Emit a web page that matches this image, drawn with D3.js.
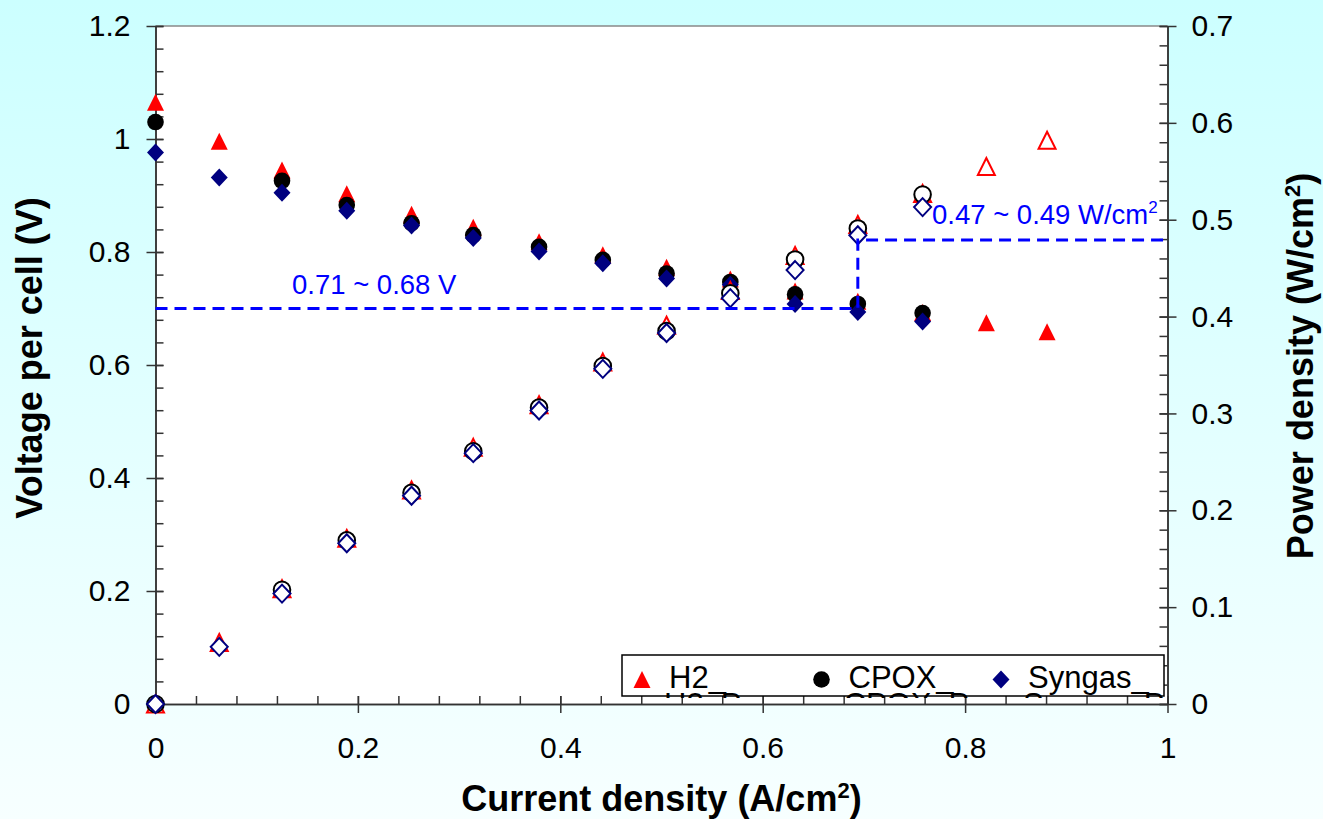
<!DOCTYPE html>
<html>
<head>
<meta charset="utf-8">
<script src="https://cdn.jsdelivr.net/npm/d3@7"></script>
<style>
  body { margin: 0; }
  svg { display: block; font-family: 'Liberation Sans', Arial, sans-serif; }
  .axis .tick text { font-size: 30px; fill: #000; font-family: 'Liberation Sans', Arial, sans-serif; }
  .axis path, .axis line { stroke: #333; stroke-width: 1.5; }
  .axis-title { font-size: 36px; font-weight: bold; fill: #000; }
  .guide-line { fill: none; stroke: #0000ff; stroke-width: 3; stroke-dasharray: 12 7; }
  .guide-label { font-size: 27.5px; fill: #0000ff; }
  .legend-text { font-size: 31px; fill: #000; }
</style>
</head>
<body>
<svg id="chart" width="1323" height="819"></svg>
<script>
//////////////////////////////////////////////////////////////////////////////////////////
// Data
//////////////////////////////////////////////////////////////////////////////////////////
var current_density = [0, 0.063, 0.125, 0.189, 0.253, 0.314, 0.379, 0.442, 0.505, 0.568, 0.632, 0.694, 0.758, 0.821, 0.881]

var h2_voltage     = [1.065, 0.996, 0.945, 0.903, 0.867, 0.844, 0.818, 0.795, 0.773, 0.752, 0.731, 0.713, 0.693, 0.675, 0.659]
var cpox_voltage   = [1.030, null, 0.926, 0.883, 0.851, 0.830, 0.809, 0.786, 0.762, 0.747, 0.725, 0.708, 0.692, null, null]
var syngas_voltage = [0.976, 0.932, 0.905, 0.873, 0.847, 0.825, 0.801, 0.780, 0.753, 0.742, 0.708, 0.694, 0.677, null, null]

var h2_power     = [0, 0.0635, 0.119, 0.171, 0.221, 0.265, 0.309, 0.353, 0.391, 0.427, 0.463, 0.495, 0.527, 0.555, 0.582]
var cpox_power   = [0, null, 0.118, 0.169, 0.218, 0.261, 0.306, 0.349, 0.385, 0.424, 0.459, 0.491, 0.526, null, null]
var syngas_power = [0, 0.059, 0.114, 0.166, 0.215, 0.259, 0.303, 0.346, 0.383, 0.419, 0.448, 0.484, 0.513, null, null]

var x_ticks = [0, 0.2, 0.4, 0.6, 0.8, 1]
var voltage_ticks = [0, 0.2, 0.4, 0.6, 0.8, 1, 1.2]
var power_ticks = [0, 0.1, 0.2, 0.3, 0.4, 0.5, 0.6, 0.7]

var legend_names = ['H2_', 'CPOX_', 'Syngas_']
var legend_names_power = ['H2_P', 'CPOX_P', 'Syngas_P']

var voltage_guide = 0.70
var current_guide = 0.694
var power_guide = 0.479
var voltage_guide_label = '0.71 ~ 0.68 V'
var power_guide_label = '0.47 ~ 0.49 W/cm'

//////////////////////////////////////////////////////////////////////////////////////////
// Layout
//////////////////////////////////////////////////////////////////////////////////////////
var layout = {
  'width': 1323,
  'height': 819,
  'left': 155.5,
  'right': 1167.5,
  'top': 26,
  'bottom': 704,
  'major-tick': 9,
  'minor-tick': 8,
  'legend-x': 622,
  'legend-y': 655,
  'legend-w': 542,
  'legend-h': 41,
  'legend-step': 179.5
}

var colors = { 'H2': '#ff0000', 'CPOX': '#000000', 'Syngas': '#000080' }

var shapes = {
  'triangle': 'M0,-8.5L8.5,8.5L-8.5,8.5Z',
  'diamond': 'M0,-9L8.5,0L0,9L-8.5,0Z',
  'circle': 'M8.3,0A8.3,8.3 0 1,1 -8.3,0A8.3,8.3 0 1,1 8.3,0Z'
}

var series = [
  { name: 'H2', values: h2_voltage, axis: 'v', shape: 'triangle', filled: true },
  { name: 'CPOX', values: cpox_voltage, axis: 'v', shape: 'circle', filled: true },
  { name: 'Syngas', values: syngas_voltage, axis: 'v', shape: 'diamond', filled: true },
  { name: 'H2', values: h2_power, axis: 'p', shape: 'triangle', filled: false },
  { name: 'CPOX', values: cpox_power, axis: 'p', shape: 'circle', filled: false },
  { name: 'Syngas', values: syngas_power, axis: 'p', shape: 'diamond', filled: false }
]

var x = d3.scaleLinear().domain([0, 1]).range([layout['left'], layout['right']])
var y_v = d3.scaleLinear().domain([0, 1.2]).range([layout['bottom'], layout['top']])
var y_p = d3.scaleLinear().domain([0, 0.7]).range([layout['bottom'], layout['top']])

var svg = d3.select('#chart')

//////////////////////////////////////////////////////////////////////////////////////////
// Main
//////////////////////////////////////////////////////////////////////////////////////////
draw_background()
draw_axes()
draw_axis_titles()
draw_points()
draw_guides()
draw_legend()

function draw_background() {
  var grad = svg.append('defs')
    .append('linearGradient')
    .attr('id', 'bg-grad')
    .attr('x1', 0).attr('y1', 0).attr('x2', 0).attr('y2', 1)
  grad.append('stop').attr('offset', '0%').attr('stop-color', '#ccffff')
  grad.append('stop').attr('offset', '100%').attr('stop-color', '#f7ffff')

  svg.append('rect')
    .attr('width', layout['width'])
    .attr('height', layout['height'])
    .attr('fill', 'url(#bg-grad)')

  svg.append('rect')
    .attr('x', layout['left'])
    .attr('y', layout['top'])
    .attr('width', layout['right'] - layout['left'])
    .attr('height', layout['bottom'] - layout['top'])
    .attr('fill', '#ffffff')

  svg.append('line')
    .attr('x1', layout['left']).attr('x2', layout['right'])
    .attr('y1', layout['top']).attr('y2', layout['top'])
    .attr('stroke', '#888')
    .attr('stroke-width', 1.5)
}

function draw_axes() {
  var fmt = function(d) { return String(d) }

  // minor ticks, inside the plot
  svg.append('g')
    .attr('class', 'axis')
    .attr('transform', 'translate(0,' + layout['bottom'] + ')')
    .call(d3.axisBottom(x).tickValues(d3.range(0, 1.0001, 0.04))
      .tickSize(-layout['minor-tick']).tickSizeOuter(0).tickFormat(''))

  svg.append('g')
    .attr('class', 'axis')
    .attr('transform', 'translate(' + layout['left'] + ',0)')
    .call(d3.axisLeft(y_v).tickValues(d3.range(0, 1.2001, 0.04))
      .tickSize(-layout['minor-tick']).tickSizeOuter(0).tickFormat(''))

  svg.append('g')
    .attr('class', 'axis')
    .attr('transform', 'translate(' + layout['right'] + ',0)')
    .call(d3.axisRight(y_p).tickValues(d3.range(0, 0.7001, 0.02))
      .tickSize(-layout['minor-tick']).tickSizeOuter(0).tickFormat(''))

  // major ticks, crossing the axis line
  svg.append('g')
    .attr('class', 'axis')
    .attr('transform', 'translate(0,' + layout['bottom'] + ')')
    .call(d3.axisBottom(x).tickValues(x_ticks).tickSize(layout['major-tick'])
      .tickSizeOuter(0).tickPadding(24).tickFormat(fmt))
    .selectAll('.tick line').attr('y1', -layout['minor-tick'])

  svg.append('g')
    .attr('class', 'axis')
    .attr('transform', 'translate(' + layout['left'] + ',0)')
    .call(d3.axisLeft(y_v).tickValues(voltage_ticks).tickSize(layout['major-tick'])
      .tickSizeOuter(0).tickPadding(16).tickFormat(fmt))
    .selectAll('.tick line').attr('x1', layout['minor-tick'])

  svg.append('g')
    .attr('class', 'axis')
    .attr('transform', 'translate(' + layout['right'] + ',0)')
    .call(d3.axisRight(y_p).tickValues(power_ticks).tickSize(layout['major-tick'])
      .tickSizeOuter(0).tickPadding(15).tickFormat(fmt))
    .selectAll('.tick line').attr('x1', -layout['minor-tick'])
}

function draw_axis_titles() {
  var xt = svg.append('text')
    .attr('class', 'axis-title')
    .attr('x', (layout['left'] + layout['right']) / 2)
    .attr('y', 811)
    .attr('text-anchor', 'middle')
  add_unit_text(xt, 'Current density (A/cm', ')')

  svg.append('text')
    .attr('class', 'axis-title')
    .attr('transform', 'translate(42,358) rotate(-90)')
    .attr('text-anchor', 'middle')
    .text('Voltage per cell (V)')

  var pt = svg.append('text')
    .attr('class', 'axis-title')
    .attr('transform', 'translate(1313,366) rotate(-90)')
    .attr('text-anchor', 'middle')
  add_unit_text(pt, 'Power density (W/cm', ')')
}

function add_unit_text(sel, before, after) {
  sel.append('tspan').text(before)
  sel.append('tspan').text('2').attr('font-size', '22px').attr('dy', -13)
  sel.append('tspan').text(after).attr('dy', 13)
}

function draw_points() {
  series.forEach(function(s) {
    var scale = s.axis == 'v' ? y_v : y_p
    var pts = current_density
      .map(function(c, i) { return { x: c, y: s.values[i] } })
      .filter(function(d) { return d.y != null })

    svg.append('g')
      .attr('class', 'series')
      .selectAll('path')
      .data(pts)
      .enter()
      .append('path')
      .attr('d', shapes[s.shape])
      .attr('transform', function(d) { return 'translate(' + x(d.x) + ',' + scale(d.y) + ')' })
      .attr('fill', s.filled ? colors[s.name] : '#ffffff')
      .attr('stroke', s.filled ? 'none' : colors[s.name])
      .attr('stroke-width', s.filled ? 0 : 2)
  })
}

function draw_guides() {
  var yv = y_v(voltage_guide)
  var yp = y_p(power_guide)
  var xc = x(current_guide)

  svg.append('path')
    .attr('class', 'guide-line')
    .attr('d', 'M' + layout['left'] + ',' + yv + 'H' + xc + 'V' + yp + 'H' + layout['right'])

  svg.append('text')
    .attr('class', 'guide-label')
    .attr('x', 292)
    .attr('y', yv - 15)
    .text(voltage_guide_label)

  var pl = svg.append('text')
    .attr('class', 'guide-label')
    .attr('x', 932)
    .attr('y', yp - 16)
  pl.append('tspan').text(power_guide_label)
  pl.append('tspan').text('2').attr('font-size', '17px').attr('dy', -11)
}

function draw_legend() {
  var g = svg.append('g')
    .attr('transform', 'translate(' + layout['legend-x'] + ',' + layout['legend-y'] + ')')

  g.append('clipPath')
    .attr('id', 'legend-clip')
    .append('rect')
    .attr('x', 0).attr('y', 0)
    .attr('width', layout['legend-w'])
    .attr('height', layout['legend-h'] + 2)

  g.append('rect')
    .attr('width', layout['legend-w'])
    .attr('height', layout['legend-h'])
    .attr('fill', '#ffffff')
    .attr('stroke', '#000')
    .attr('stroke-width', 1.5)

  var names = ['H2', 'CPOX', 'Syngas']
  var shape_of = ['triangle', 'circle', 'diamond']

  g.selectAll('.legend-marker')
    .data(names)
    .enter()
    .append('path')
    .attr('class', 'legend-marker')
    .attr('d', function(d, i) { return shapes[shape_of[i]] })
    .attr('transform', function(d, i) {
      return 'translate(' + (20 + i * layout['legend-step']) + ',24.5)'
    })
    .attr('fill', function(d) { return colors[d] })

  g.selectAll('.legend-text')
    .data(legend_names)
    .enter()
    .append('text')
    .attr('class', 'legend-text')
    .attr('x', function(d, i) { return 47 + i * layout['legend-step'] })
    .attr('y', 33)
    .text(function(d) { return d })

  // second row overflows the box and is clipped
  g.append('g')
    .attr('clip-path', 'url(#legend-clip)')
    .selectAll('.legend-text-p')
    .data(legend_names_power)
    .enter()
    .append('text')
    .attr('class', 'legend-text')
    .attr('x', function(d, i) { return 42 + i * layout['legend-step'] })
    .attr('y', 60)
    .text(function(d) { return d })
}
</script>
</body>
</html>
